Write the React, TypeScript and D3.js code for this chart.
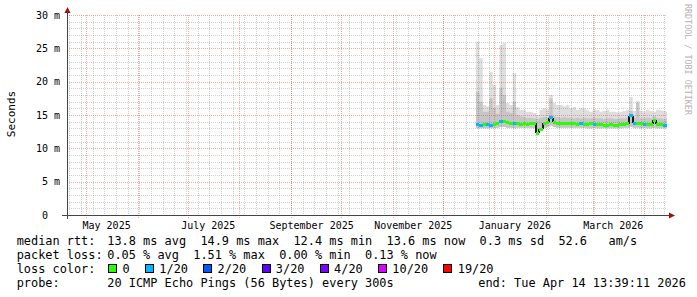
import React from "react";
import * as d3 from "d3";

// ---------- data ----------
const END = new Date(2026, 3, 14, 13, 39, 11);
const START = new Date(END.getTime() - 360 * 86400000);
const DATA_START = new Date(2025, 11, 21);
const STEP_DAYS = 2;

// smoke envelope (ms), one value per 2-day bin
const smokeMax = [
  26.0, 23.5, 16.5, 16.3, 21.5, 19.5, 16.5, 25.5, 25.8, 16.8,
  16.5, 21.3, 16.2, 15.8, 15.8, 15.5, 15.5, 15.3, 15.0, 15.8,
  16.0, 15.8, 18.0, 16.8, 16.5, 16.5, 16.3, 16.5, 16.0, 16.2,
  15.8, 16.0, 16.0, 15.7, 15.5, 15.8, 15.8, 15.5, 15.6, 15.8,
  15.5, 15.5, 15.4, 15.5, 15.6, 15.8, 17.7, 15.6, 17.1, 15.6,
  15.5, 15.8, 15.6, 15.5, 15.8, 15.7, 15.6, 15.5,
];
const smokeMid = [
  18.5, 17.0, 15.5, 15.5, 17.5, 16.0, 15.2, 19.0, 18.0, 15.5,
  15.3, 17.0, 15.0, 14.8, 14.7, 14.6, 14.6, 14.5, 14.4, 14.6,
  14.7, 14.6, 17.5, 14.8, 14.7, 14.6, 14.7, 14.6, 14.6, 14.5,
  14.6, 14.5, 14.6, 14.5, 14.5, 14.6, 14.5, 14.5, 14.4, 14.5,
  14.5, 14.4, 14.4, 14.5, 14.5, 14.6, 15.6, 14.6, 16.8, 14.5,
  14.5, 14.6, 14.5, 14.8, 14.5, 14.5, 14.4, 14.5,
];
const smokeMin = [
  13.0, 13.0, 13.0, 13.0, 13.0, 13.0, 13.1, 13.2, 13.2, 13.1,
  13.1, 13.0, 13.1, 13.1, 13.1, 13.1, 13.1, 13.0, 12.2, 12.7,
  13.1, 13.2, 13.4, 13.2, 13.1, 13.1, 13.1, 13.1, 13.1, 13.1,
  13.1, 13.1, 13.1, 13.0, 13.0, 13.1, 13.0, 13.0, 13.0, 13.0,
  13.0, 13.0, 13.0, 13.0, 13.1, 13.1, 13.2, 13.1, 13.1, 13.0,
  13.1, 13.0, 13.0, 13.1, 13.0, 13.0, 13.0, 13.0,
];
const median = [
  13.6, 13.5, 13.6, 13.6, 13.5, 13.6, 13.7, 14.1, 14.1, 13.9,
  13.8, 13.7, 13.7, 13.6, 13.7, 13.6, 13.7, 13.8, 12.3, 12.9,
  13.8, 13.9, 14.6, 13.9, 13.8, 13.7, 13.7, 13.8, 13.7, 13.7,
  13.6, 13.7, 13.6, 13.6, 13.7, 13.6, 13.6, 13.6, 13.5, 13.5,
  13.6, 13.5, 13.5, 13.6, 13.6, 13.7, 14.9, 13.8, 13.7, 13.7,
  13.6, 13.6, 13.6, 14.2, 13.6, 13.6, 13.5, 13.5,
];
const lossIdx = [
  1, 1, 0, 1, 1, 0, 0, 1, 0, 0,
  0, 1, 0, 0, 0, 0, 0, 0, 0, 0,
  0, 0, 1, 0, 0, 0, 0, 0, 0, 0,
  0, 1, 0, 0, 0, 1, 0, 0, 0, 0,
  0, 0, 0, 0, 0, 0, 1, 1, 0, 0,
  1, 0, 0, 0, 0, 0, 1, 1,
];

const yTicks = [0, 5, 10, 15, 20, 25, 30];
const yTickLabels = ["0", "5 m", "10 m", "15 m", "20 m", "25 m", "30 m"];
const lossColors = ["#26ff00", "#00b8ff", "#0059ff", "#5e00ff", "#7e00ff", "#dd00ff", "#ff0000"];
const lossLabels = ["0", "1/20", "2/20", "3/20", "4/20", "10/20", "19/20"];

const rttLegend = "13.8 ms avg  14.9 ms max  12.4 ms min  13.6 ms now  0.3 ms sd  52.6   am/s";
const lossLegend = "0.05 % avg  1.51 % max  0.00 % min  0.13 % now";
const probeText = "20 ICMP Echo Pings (56 Bytes) every 300s";
const endText = "end: Tue Apr 14 13:39:11 2026";

// ---------- layout ----------
const W = 697, H = 297;
const L = 67, R = 667, T = 15, B = 215;
const MONO = "'DejaVu Sans Mono', monospace";
const CH = 7.16; // legend char width
const LEG_FS = 11.9;

function tokens(str: string, x0: number, yy: number, key: string) {
  const out: React.ReactElement[] = [];
  let col = 0;
  str.split(/(\s+)/).forEach((tok, k) => {
    if (tok.trim()) out.push(<text key={key + k} x={x0 + col * CH} y={yy}>{tok}</text>);
    col += tok.length;
  });
  return out;
}

export default function App() {
  const x = d3.scaleTime().domain([START, END]).range([L, R]);
  const y = d3.scaleLinear().domain([0, 30]).range([B, T]);

  const times = median.map((_, i) => d3.timeDay.offset(DATA_START, i * STEP_DAYS));
  const tEnd = (i: number) => (i + 1 < times.length ? times[i + 1] : END);
  const pts = times.map((t, i) => ({ t, i }));
  const ptsClosed = [...pts, { t: END, i: pts.length - 1 }];

  const area = (top: number[], bot: number[]) =>
    d3.area<{ t: Date; i: number }>()
      .x(d => x(d.t))
      .y0(d => y(bot[d.i]))
      .y1(d => y(top[d.i]))
      .curve(d3.curveStepAfter)(ptsClosed) || "";

  const minorY = d3.range(1, 30).filter(v => v % 5 !== 0);
  const majorY = d3.range(5, 31, 5);
  const minorX = d3.timeMonday.range(START, END);
  const majorX = d3.timeMonth.range(d3.timeDay.offset(START, 1), END);
  const labelMonths = majorX.filter(m => m.getMonth() % 2 === 0);
  const monthName = d3.timeFormat("%B %Y");

  const boxes: { bx: number; tx: number; label: string; color: string }[] = [];
  let bx = 108.3;
  lossLabels.forEach((lab, k) => {
    const tx = bx + 14.3;
    boxes.push({ bx, tx, label: lab, color: lossColors[k] });
    bx = tx + lab.length * CH + 15.3;
  });

  const rowY = [245, 258.9, 272.7, 286.6];

  return (
    <svg width={W} height={H} viewBox={`0 0 ${W} ${H}`}
      style={{ position: "absolute", left: 0, top: 0, background: "#fff" }}>
      <rect x={0} y={0} width={W} height={H} fill="#fff" />

      {/* smoke */}
      <path d={area(smokeMax, smokeMin)} fill="#dedede" />
      <path d={area(smokeMid, smokeMin)} fill="#c6c6c6" />

      {/* grid */}
      <g shapeRendering="crispEdges">
        {minorY.map(v => (
          <line key={"my" + v} x1={L} x2={R} y1={Math.round(y(v)) + 0.5} y2={Math.round(y(v)) + 0.5}
            stroke="rgba(0,0,0,0.18)" strokeDasharray="1,1" />
        ))}
        {minorX.map((d, k) => (
          <line key={"mx" + k} y1={T} y2={B} x1={Math.round(x(d)) + 0.5} x2={Math.round(x(d)) + 0.5}
            stroke="rgba(0,0,0,0.18)" strokeDasharray="1,1" />
        ))}
        {majorY.map(v => (
          <line key={"My" + v} x1={L} x2={R} y1={Math.round(y(v)) + 0.5} y2={Math.round(y(v)) + 0.5}
            stroke="rgba(230,60,60,0.45)" strokeDasharray="1,1" />
        ))}
        {majorX.map((d, k) => (
          <line key={"Mx" + k} y1={T} y2={B + 3} x1={Math.round(x(d)) + 0.5} x2={Math.round(x(d)) + 0.5}
            stroke="rgba(230,60,60,0.45)" strokeDasharray="1,1" />
        ))}
      </g>

      {/* median line coloured by loss */}
      <g shapeRendering="crispEdges">
        {median.map((m, i) => {
          if (i === 0 || Math.abs(m - median[i - 1]) < 0.45) return null;
          return (
            <line key={"c" + i} x1={x(times[i])} x2={x(times[i])}
              y1={y(median[i - 1])} y2={y(m)} stroke="#1a1a1a" strokeWidth={2} />
          );
        })}
        {median.map((m, i) => (
          <rect key={"m" + i} x={x(times[i])} width={x(tEnd(i)) - x(times[i])}
            y={y(m) - 1.5} height={3} fill={lossColors[lossIdx[i]]} />
        ))}
      </g>

      {/* axes */}
      <g shapeRendering="crispEdges">
        <line x1={L - 5} x2={R + 5} y1={B + 0.5} y2={B + 0.5} stroke="#444" />
        <line x1={L + 0.5} x2={L + 0.5} y1={B + 4} y2={T - 4} stroke="#444" />
      </g>
      <path d={`M${L + 0.5},${T - 8} L${L - 2.5},${T - 2} L${L + 3.5},${T - 2} Z`} fill="#a01010" />
      <path d={`M${R + 8},${B + 0.5} L${R + 2},${B - 2.5} L${R + 2},${B + 3.5} Z`} fill="#a01010" />

      {/* y labels */}
      {yTicks.map((v, k) => (
        <text key={"yl" + v} x={v === 0 ? 48 : 60} y={y(v) + 3.6} textAnchor="end"
          fontFamily={MONO} fontSize={10} fill="#000">{yTickLabels[k]}</text>
      ))}
      <text transform={`translate(14.5,114) rotate(-90)`} textAnchor="middle"
        fontFamily={MONO} fontSize={11} fill="#000">Seconds</text>

      {/* x labels */}
      {labelMonths.map((m, k) => (
        <text key={"xl" + k} x={x(d3.timeHour.offset(m, 296))} y={228.5} textAnchor="middle"
          fontFamily={MONO} fontSize={10} fill="#000">{monthName(m)}</text>
      ))}

      {/* watermark */}
      <text transform="translate(684.5,4) rotate(90)" fontFamily={MONO} fontSize={8.4}
        fill="#b4b4b4">RRDTOOL / TOBI OETIKER</text>

      {/* legend */}
      <g fontFamily={MONO} fontSize={LEG_FS} fill="#000">
        <text x={16.7} y={rowY[0]}>median rtt:</text>
        {tokens(rttLegend, 107.3, rowY[0], "r")}
        <text x={16.7} y={rowY[1]}>packet loss:</text>
        {tokens(lossLegend, 107.3, rowY[1], "p")}
        <text x={16.7} y={rowY[2]}>loss color:</text>
        {boxes.map((b, k) => (
          <g key={"b" + k}>
            <rect x={Math.round(b.bx) + 0.5} y={264.5} width={8} height={8} fill={b.color}
              stroke="#000" shapeRendering="crispEdges" />
            <text x={b.tx} y={rowY[2]}>{b.label}</text>
          </g>
        ))}
        <text x={16.7} y={rowY[3]}>probe:</text>
        {tokens(probeText, 107.3, rowY[3], "q")}
        {tokens(endText, 478.3, rowY[3], "e")}
      </g>
    </svg>
  );
}
